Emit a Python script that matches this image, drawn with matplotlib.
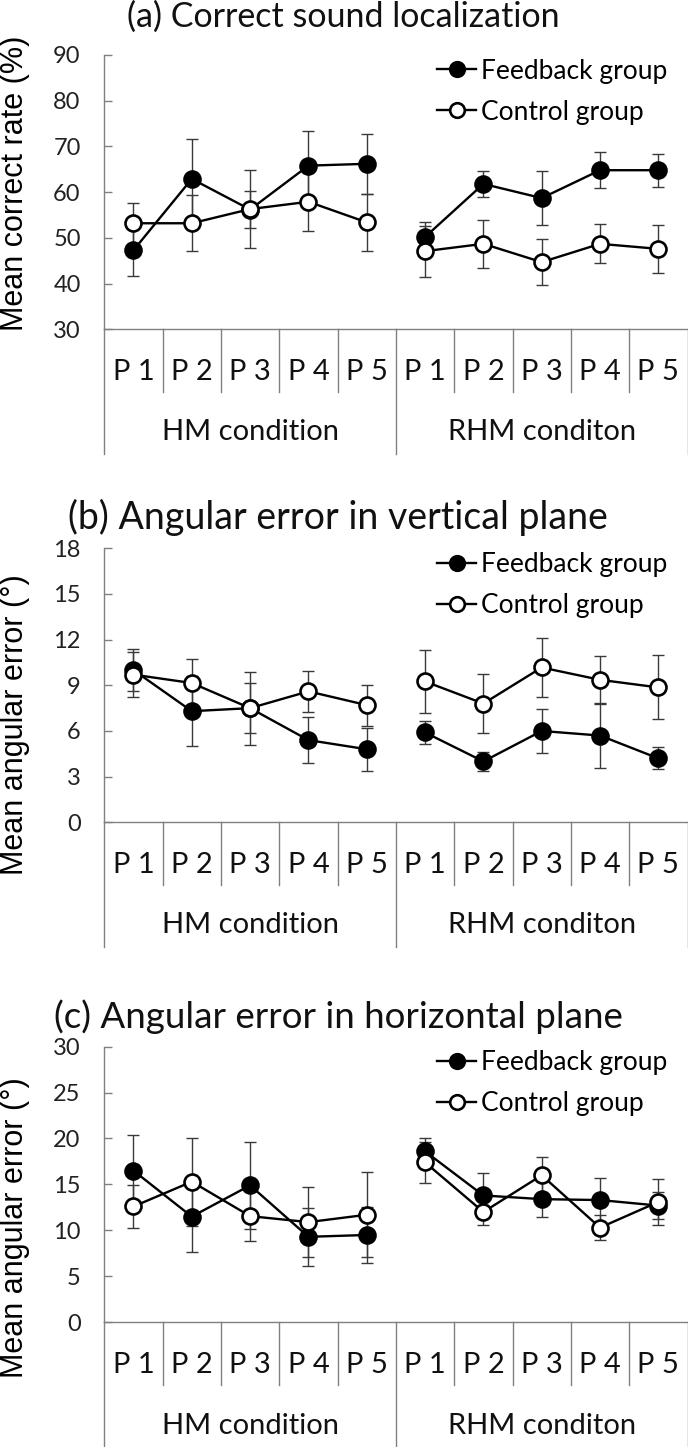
import matplotlib
matplotlib.use("Agg")
import matplotlib.pyplot as plt

# categories
phases = ["P 1", "P 2", "P 3", "P 4", "P 5"]
conditions = ["HM condition", "RHM conditon"]
series_names = ["Feedback group", "Control group"]

# (a) correct rate, %
a_fb_mean = [47.3, 62.9, 56.2, 65.8, 66.2, 50.2, 61.8, 58.7, 64.8, 64.8]
a_fb_err = [5.7, 8.7, 4.0, 7.5, 6.6, 3.3, 2.8, 5.9, 3.9, 3.6]
a_ct_mean = [53.2, 53.2, 56.3, 57.9, 53.4, 47.1, 48.7, 44.7, 48.7, 47.6]
a_ct_err = [4.5, 6.1, 8.6, 6.5, 6.3, 5.6, 5.3, 5.0, 4.3, 5.2]

# (b) vertical angular error, deg
b_fb_mean = [10.0, 7.3, 7.5, 5.4, 4.8, 5.9, 4.0, 6.0, 5.7, 4.2]
b_fb_err = [1.4, 2.3, 1.65, 1.5, 1.4, 0.75, 0.6, 1.47, 2.1, 0.73]
b_ct_mean = [9.7, 9.15, 7.5, 8.6, 7.7, 9.25, 7.8, 10.17, 9.36, 8.86]
b_ct_err = [1.5, 1.55, 2.4, 1.33, 1.35, 2.05, 1.95, 1.95, 1.55, 2.1]

# (c) horizontal angular error, deg
c_fb_mean = [16.5, 11.5, 14.9, 9.3, 9.5, 18.6, 13.8, 13.4, 13.3, 12.7]
c_fb_err = [3.9, 3.9, 4.7, 3.15, 3.0, 1.4, 2.4, 1.95, 2.45, 1.5]
c_ct_mean = [12.6, 15.3, 11.55, 10.9, 11.7, 17.4, 12.0, 16.0, 10.3, 13.1]
c_ct_err = [2.3, 4.8, 2.7, 3.8, 4.6, 2.25, 1.45, 2.0, 1.4, 2.5]

titles = ["(a) Correct sound localization",
          "(b) Angular error in vertical plane",
          "(c) Angular error in horizontal plane"]
ylabels = ["Mean correct rate (%)", "Mean angular error (\u00b0)", "Mean angular error (\u00b0)"]
yticks = [list(range(30, 91, 10)), list(range(0, 19, 3)), list(range(0, 31, 5))]

FONT = "Lato"
AXIS_GREY = "#808080"


def draw_panel(ax, fb_mean, fb_err, ct_mean, ct_err, ticks, ylabel, label_y):
    n = len(phases)
    x = list(range(len(fb_mean)))
    for mean, err in [(fb_mean, fb_err), (ct_mean, ct_err)]:
        ax.errorbar(x, mean, yerr=err, fmt="none", ecolor="#3a3a3a",
                    elinewidth=1.0, capsize=4.5, capthick=1.0, zorder=2)
    for mean, face, name in [(fb_mean, "black", series_names[0]),
                             (ct_mean, "white", series_names[1])]:
        for g in range(len(conditions)):
            sl = slice(g * n, (g + 1) * n)
            ax.plot(x[sl], mean[sl], color="black", lw=1.7, marker="o",
                    ms=11.5, mfc=face, mec="black", mew=1.9, zorder=3,
                    label=name if g == 0 else None)

    ax.set_xlim(-0.5, len(x) - 0.5)
    ax.set_ylim(ticks[0], ticks[-1])
    ax.set_yticks(ticks)
    ax.tick_params(axis="y", direction="in", length=6, width=1, color=AXIS_GREY,
                   pad=17, labelsize=17)
    for t in ax.get_yticklabels():
        t.set_fontfamily(FONT)
        t.set_color("#222222")
    ax.set_xticks([])
    for s in ["top", "right"]:
        ax.spines[s].set_visible(False)
    for s in ["left", "bottom"]:
        ax.spines[s].set_color(AXIS_GREY)
        ax.spines[s].set_linewidth(1)

    # two-level category axis drawn below the plot
    tr = ax.get_xaxis_transform()
    short, long_ = -0.228, -0.455
    for i in range(len(x) + 1):
        b = i - 0.5
        y1 = long_ if i % n == 0 else short
        ax.plot([b, b], [0, y1], color=AXIS_GREY, lw=1, transform=tr, clip_on=False)
    for i in range(len(x)):
        ax.text(i, -0.155, phases[i % n], transform=tr, ha="center", va="center",
                fontsize=21, fontfamily=FONT, color="#111111")
    for g, cond in enumerate(conditions):
        ax.text(g * n + (n - 1) / 2, -0.375, cond, transform=tr, ha="center",
                va="center", fontsize=21, fontfamily=FONT, color="#111111")

    ax.set_ylabel(ylabel, fontsize=22, fontfamily="Liberation Sans")
    ax.yaxis.set_label_coords(-0.128, label_y)

    leg = ax.legend(loc="upper left", bbox_to_anchor=(0.552, 1.025), frameon=False,
                    handlelength=1.5, handletextpad=0.19, labelspacing=0.6,
                    borderaxespad=0.0, prop={"family": FONT, "size": 19})
    for h in leg.legend_handles:
        h.set_markersize(10.5)


fig = plt.figure(figsize=(6.88, 14.47), dpi=100)
left, width = 0.1516, 0.8477
boxes = [(0.7724, 0.1896), (0.4317, 0.1894), (0.0862, 0.1905)]
data = [(a_fb_mean, a_fb_err, a_ct_mean, a_ct_err),
        (b_fb_mean, b_fb_err, b_ct_mean, b_ct_err),
        (c_fb_mean, c_fb_err, c_ct_mean, c_ct_err)]
label_ys = [0.533, 0.355, 0.342]
title_ys = [17, 517, 1017]
title_xs = [343, 338, 338]
title_sizes = [24.5, 27, 26.5]

for k in range(3):
    bottom, height = boxes[k]
    ax = fig.add_axes([left, bottom, width, height])
    draw_panel(ax, *data[k], yticks[k], ylabels[k], label_ys[k])
    fig.text(title_xs[k] / 688, 1 - title_ys[k] / 1447, titles[k], ha="center", va="center",
             fontsize=title_sizes[k], fontfamily=FONT, color="#111111")

fig.savefig("out.png", dpi=100)
